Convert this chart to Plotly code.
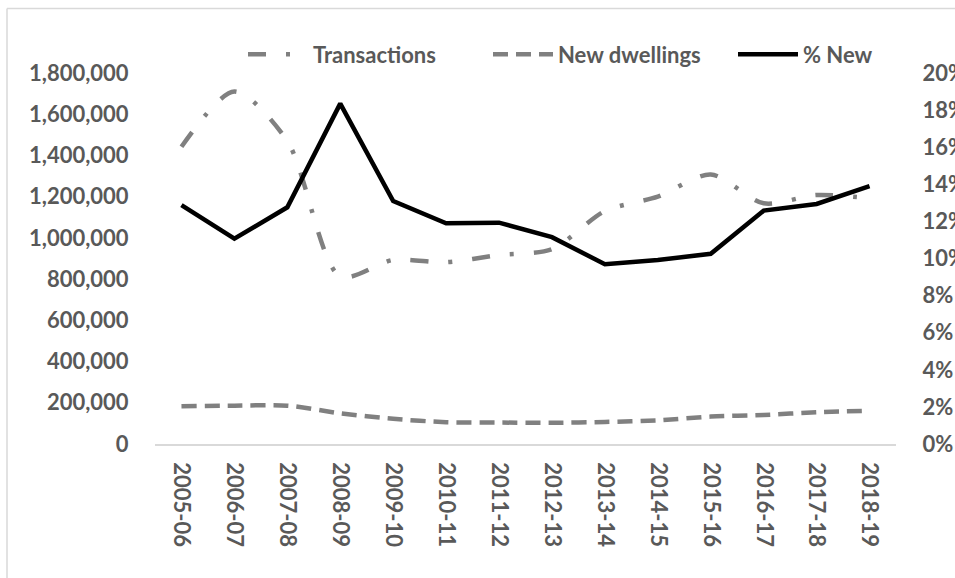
import plotly.graph_objects as go

years = ["2005-06", "2006-07", "2007-08", "2008-09", "2009-10", "2010-11", "2011-12",
         "2012-13", "2013-14", "2014-15", "2015-16", "2016-17", "2017-18", "2018-19"]
transactions = [1442000, 1710000, 1470000, 813000, 893000, 882000, 917000,
                945000, 1130000, 1200000, 1308000, 1168000, 1208000, 1192000]
new_dwellings = [183000, 186000, 186000, 149000, 122000, 106000, 104000,
                 103000, 107000, 115000, 133000, 141000, 154000, 161000]
pct_new = [0.1288, 0.1107, 0.1276, 0.1835, 0.1310, 0.1190, 0.1193,
           0.1115, 0.0969, 0.0992, 0.1025, 0.1258, 0.1294, 0.1390]

GRAY = "#808080"
TEXT = "#595959"
FONT = "Lato"
FS = 22

fig = go.Figure()
fig.add_trace(go.Scatter(
    x=years, y=transactions, name="Transactions", mode="lines",
    line=dict(color=GRAY, width=4.5, dash="18px,20px,4px,20px", shape="spline", smoothing=0.8),
))
fig.add_trace(go.Scatter(
    x=years, y=new_dwellings, name="New dwellings", mode="lines",
    line=dict(color=GRAY, width=4.5, dash="15px,8px", shape="spline", smoothing=0.8),
))
fig.add_trace(go.Scatter(
    x=years, y=pct_new, name="% New", mode="lines", yaxis="y2",
    line=dict(color="black", width=4.5),
))

plot_l, plot_r, plot_t, plot_b = 155, 896, 72.7, 444.5
pw = plot_r - plot_l
ph = plot_b - plot_t

tf = dict(family=FONT, size=FS, color=TEXT, weight="bold")

def px_x(p):
    return (p - plot_l) / pw

def px_y(p):
    return (plot_b - p) / ph

fig.update_layout(
    template="none",
    width=955, height=578,
    margin=dict(l=plot_l, r=955 - plot_r, t=plot_t, b=578 - plot_b, pad=0, autoexpand=False),
    paper_bgcolor="white", plot_bgcolor="white",
    font=tf,
    showlegend=True,
    hovermode=False,
    legend=dict(
        orientation="h", x=px_x(243), y=px_y(54),
        xanchor="left", yanchor="middle",
        font=tf, bgcolor="rgba(0,0,0,0)", borderwidth=0, itemwidth=60,
        entrywidth=170, entrywidthmode="pixels",
    ),
    xaxis=dict(
        type="category", tickangle=90, showgrid=False, zeroline=False,
        showline=True, linecolor="#d9d9d9", linewidth=1.5,
        ticks="", ticklabelstandoff=12, tickfont=tf, automargin=False,
        range=[-0.5, len(years) - 0.5],
    ),
    yaxis=dict(
        range=[0, 1800000], dtick=200000, tickformat=",d",
        showgrid=False, zeroline=False, showline=False, automargin=False,
        ticks="outside", ticklen=21, tickcolor="rgba(0,0,0,0)",
        tickfont=tf,
    ),
    yaxis2=dict(
        range=[0, 0.2], dtick=0.02, tickformat=".0%", overlaying="y", side="right",
        showgrid=False, zeroline=False, showline=False, automargin=False,
        ticks="outside", ticklen=21, tickcolor="rgba(0,0,0,0)",
        tickfont=tf,
    ),
    shapes=[
        dict(type="line", xref="paper", yref="paper",
             x0=px_x(7), x1=px_x(960), y0=px_y(8), y1=px_y(8),
             line=dict(color="#d9d9d9", width=1.5), layer="below"),
        dict(type="line", xref="paper", yref="paper",
             x0=px_x(7), x1=px_x(7), y0=px_y(8), y1=px_y(590),
             line=dict(color="#d9d9d9", width=1.5), layer="below"),
    ],
)

fig.write_html("out.html", config={"displayModeBar": False},
               post_script="document.body.style.margin='0px';")
